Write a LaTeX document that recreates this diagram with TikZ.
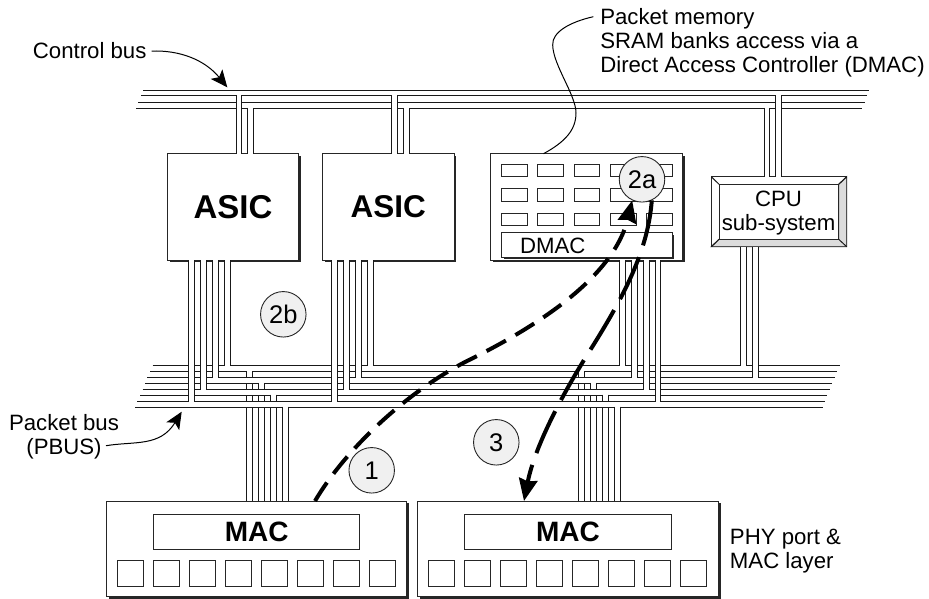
\documentclass[tikz,border=0pt]{standalone}
\usepackage{fontspec}
\setmainfont{Liberation Sans}
\usetikzlibrary{arrows.meta,shadows}
\definecolor{circfill}{HTML}{F0F0F0}
\definecolor{bevel}{HTML}{DCDCDC}
\newcommand{\bx}[7]{\pgfmathsetmacro\cxx{(#2+#4)/2}\pgfmathsetmacro\cyy{(#3+#5)/2}\pgfmathsetmacro\www{#4-#2}\pgfmathsetmacro\hhh{#5-#3}\node[#6,minimum width=\www pt,minimum height=\hhh pt] (#1) at (\cxx,\cyy) {#7};}
% pair of wires from a box up to a line of the control bus
\newcommand{\upw}[4]{\fill[white] (#1,{#3-.8}) rectangle (#2,0 |- #4.north);\draw[wire] (#1,{#3-.5}) -- (#1,0 |- #4.north);\draw[wire] (#2,{#3-.5}) -- (#2,0 |- #4.north);}
% pair of wires from a box down to a line of the packet bus
\newcommand{\dnw}[4]{\fill[white] (#1,0 |- #3.south) rectangle (#2,{#4+.8});\draw[wire] (#1,0 |- #3.south) -- (#1,{#4+.5});\draw[wire] (#2,0 |- #3.south) -- (#2,{#4+.5});}
% pair of wires from a MAC up to a line of the packet bus (runs under the bands)
\newcommand{\macw}[4]{\draw[wire] (#1,#4) -- (#1,0 |- #3.north);\draw[wire] (#2,#4) -- (#2,0 |- #3.north);}
\newcommand{\macb}[3]{\fill[white] (#1,{#3-.8}) rectangle (#2,{#3+.8});\draw[wire] (#1,{#3-.5}) -- (#1,{#3+1});\draw[wire] (#2,{#3-.5}) -- (#2,{#3+1});}
\tikzset{
  wire/.style={line width=.95pt,black!90},
  plain/.style={draw=black!85,line width=.95pt,fill=white,inner sep=0pt,outer sep=0pt},
  shbox/.style={plain,drop shadow={shadow xshift=2.2pt,shadow yshift=-2.2pt,opacity=1,fill=black!85}},
  cell/.style={plain},
  badge/.style={circle,draw=black!85,line width=.9pt,fill=circfill,minimum size=45.5pt,inner sep=0pt,font=\fontsize{25.5}{25.5}\selectfont},
  lbl/.style={inner sep=0pt,font=\fontsize{22.2}{24}\selectfont},
  big/.style={font=\fontsize{28}{28}\selectfont\bfseries},
  leader/.style={line width=1pt,black},
  leadarrow/.style={leader,-{Stealth[length=17pt,width=15pt,inset=4pt]}},
  flow/.style={line width=4pt,black,-{Stealth[length=22pt,width=18.5pt,inset=2pt]}},
}
\begin{document}
\begin{tikzpicture}[x=1pt,y=-1pt]
\useasboundingbox (0,0) rectangle (929,598);
% boxes
\bx{asicA}{167.3}{153.7}{298.7}{260.2}{shbox}{\fontsize{33}{33}\selectfont\bfseries\raisebox{-1pt}{ASIC}}
\bx{asicB}{322.7}{153.7}{454}{260.2}{shbox}{\fontsize{31.5}{32}\selectfont\bfseries\raisebox{-1pt}{ASIC}}
\bx{mem}{490.7}{153.7}{682.3}{260.2}{shbox}{}
\foreach \y/\yy/\r in {164.3/176.3/a,188.7/201/b,213.3/225/c}
  \foreach \x/\xx/\c in {501.3/527/1,537.5/563/2,574/599.7/3,610/636/4,646/672/5}
    {\bx{m\r\c}{\x}{\y}{\xx}{\yy}{cell}{}}
\bx{dmac}{501.3}{232.3}{672}{257}{shbox}{}
\node[lbl] (dmactxt) at (552.7,245.5) {DMAC};
% CPU
\bx{cpu}{711.3}{176.7}{846.7}{246.7}{plain}{}
\fill[bevel,draw=black!85,line width=.9pt] (cpu.north east) -- (838.7,184.3) -- (838.7,239.3) -- (719,239.3) -- (cpu.south west) -- (cpu.south east) -- cycle;
\bx{cpuin}{719}{184.3}{838.7}{239.3}{plain}{}
\draw[wire] (cpu.north west) -- (cpuin.north west);
\draw[wire] (cpu.north east) -- (cpuin.north east);
\draw[wire] (cpu.south west) -- (cpuin.south west);
\draw[wire] (cpu.south east) -- (cpuin.south east);
\node[lbl,align=center] (cputxt) at (778.5,213.3) {CPU\\sub-system};
% MACs
\bx{macA}{106.7}{501}{406.3}{596.3}{shbox}{}
\bx{macAin}{153.3}{514}{359.3}{549}{plain}{}
\node[big] (macAt) at (256.7,532) {MAC};
\bx{macB}{417.7}{501}{718.3}{596.3}{shbox}{}
\bx{macBin}{464.7}{514}{671.3}{549}{plain}{}
\node[big] (macBt) at (568,532) {MAC};
\foreach \i in {0,...,7}{
  \pgfmathsetmacro\xa{117.3+36*\i}\pgfmathsetmacro\xb{\xa+25.7}
  \bx{pA\i}{\xa}{560.7}{\xb}{586}{cell}{}
  \pgfmathsetmacro\xa{428.3+36*\i}\pgfmathsetmacro\xb{\xa+25.7}
  \bx{pB\i}{\xa}{560.7}{\xb}{586}{cell}{}
}
% control bus
\foreach \y/\l/\r in {90/143/869,95.7/141/867,102.2/138/865,108.3/136/862}
  \draw[wire] (\l,\y) -- (\r,\y);
\upw{236}{241.3}{95.7}{asicA}
\upw{247.3}{253.3}{108.3}{asicA}
\upw{391.7}{397.3}{95.7}{asicB}
\upw{403.3}{409}{108.3}{asicB}
\upw{775}{781}{95.7}{cpu}
\upw{764}{769.3}{108.3}{cpu}
% packet bus: MAC wires run under the bands
\macw{246.7}{252.7}{macA}{371.6}
\macw{258.7}{264.7}{macA}{383.3}
\macw{270.7}{276.7}{macA}{395}
\macw{282.7}{288.7}{macA}{407}
\macw{578.7}{584.3}{macB}{371.6}
\macw{590.3}{596.3}{macB}{383.3}
\macw{602.3}{608.3}{macB}{395}
\macw{614.3}{620.3}{macB}{407}
\foreach \a/\b in {365.7/371.6,377.5/383.3,389.2/395,401/407}
  \fill[white] (135,\a) rectangle (840,\b);
\foreach \y/\l/\r in {365.7/152.7/840,371.6/150/837.3,377.5/147.3/835,383.3/145/832.3,389.2/142.7/830,395/140/827.3,401/137.3/825,407/135/822.7}
  \draw[wire] (\l,\y) -- (\r,\y);
\macb{246.7}{252.7}{371.6}
\macb{258.7}{264.7}{383.3}
\macb{270.7}{276.7}{395}
\macb{282.7}{288.7}{407}
\macb{578.7}{584.3}{371.6}
\macb{590.3}{596.3}{383.3}
\macb{602.3}{608.3}{395}
\macb{614.3}{620.3}{407}
% packet bus: chip wires run over the bands
\dnw{188.7}{194.3}{asicA}{401}
\dnw{200.3}{206.3}{asicA}{389.2}
\dnw{212.3}{218}{asicA}{377.5}
\dnw{224.3}{230}{asicA}{365.7}
\dnw{331.7}{337.3}{asicB}{401}
\dnw{343.7}{349.3}{asicB}{389.2}
\dnw{355.7}{361.7}{asicB}{377.5}
\dnw{367.7}{373.7}{asicB}{365.7}
\dnw{619}{625}{mem}{365.7}
\dnw{631}{637}{mem}{377.5}
\dnw{643}{649}{mem}{389.2}
\dnw{655}{660.7}{mem}{401}
\dnw{740.3}{746}{cpu}{365.7}
\dnw{752}{758}{cpu}{377.5}
% labels
\node[lbl,anchor=base west] (ctrl) at (32.7,58) {Control bus};
\node[lbl,align=center] (pbus) at (64,437) {Packet bus\\(PBUS)};
\node[lbl,align=left] (pm) at (762.5,43) {Packet memory\\SRAM banks access via a\\Direct Access Controller (DMAC)};
\node[lbl,align=left] (phy) at (785.5,551) {PHY port \&\\MAC layer};
% leaders
\coordinate (ctrltip) at (227.3,87.3);
\coordinate (pbustip) at (181.7,411.7);
\coordinate (pmstart) at (593.3,16.7);
\draw[leadarrow] ([xshift=5pt,yshift=-1pt]ctrl.east) .. controls (180,50) and (205,60) .. (ctrltip);
\draw[leadarrow] (106,445.7) .. controls (135,441) and (160,447) .. (pbustip);
\draw[leader] (pmstart) .. controls (570,22) and (552,32) .. (552.7,45) .. controls (553,65) and (576,95) .. (576,113) .. controls (576,130) and (565,142) .. (mem.north -| 543.5,0);
% badges
\node[badge] (c2a) at (642,179.3) {2a};
\node[badge] (c2b) at (283.3,314.3) {2b};
\node[badge] (c1) at (371.7,470.3) {1};
\node[badge] (c3) at (496.3,442.3) {3};
% flows
\coordinate (fa) at (467,361);
\coordinate (fb) at (589,352);
\draw[flow,dash pattern=on 22pt off 11pt] (315,0 |- macA.north) .. controls (345,450) and (405,393) .. (fa) .. controls (530,330) and (613,280) .. (c2a.245);
\draw[flow,dash pattern=on 46pt off 12.5pt] (c2a.295) .. controls (648,250) and (625,295) .. (fb) .. controls (565,390) and (535,445) .. (524,0 |- macB.north);
\end{tikzpicture}
\end{document}
